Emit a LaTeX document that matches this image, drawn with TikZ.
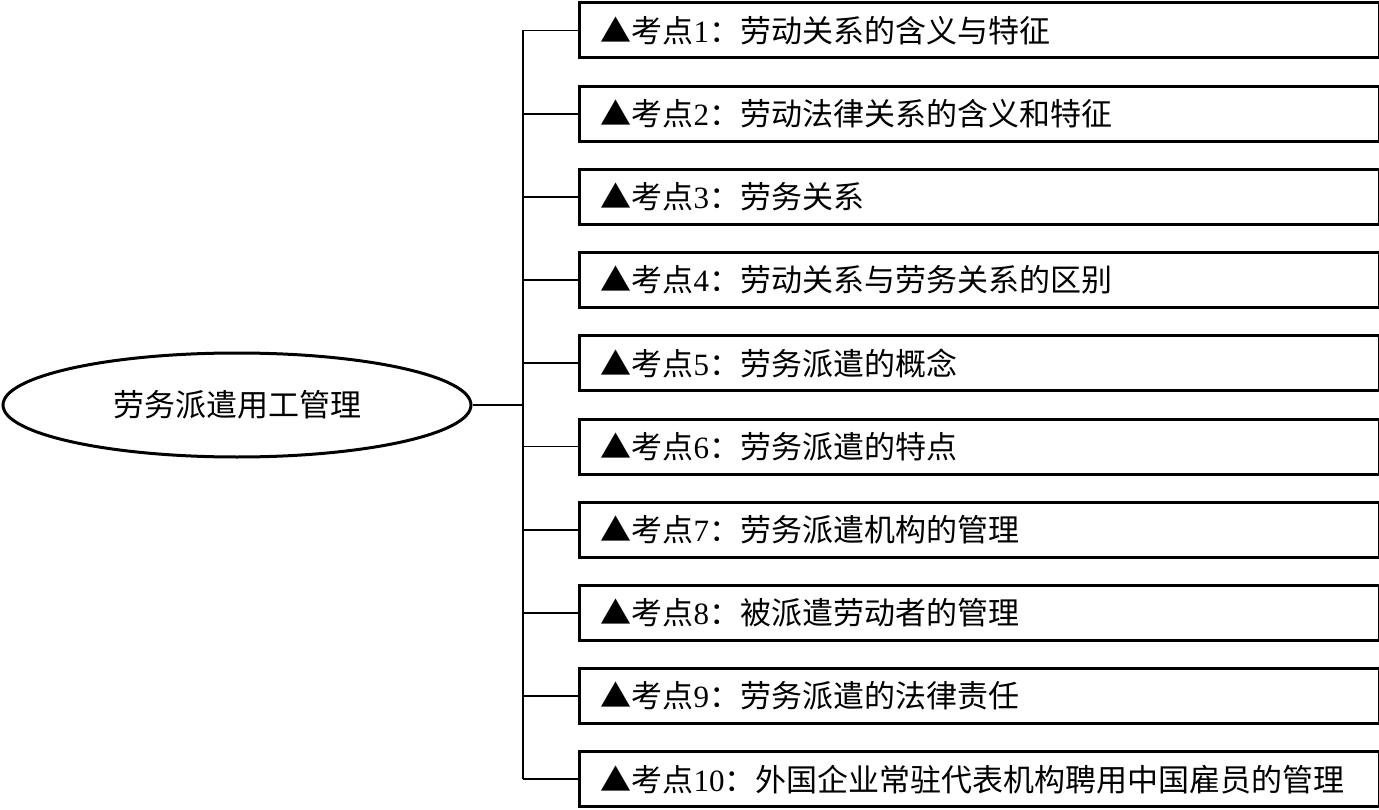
\documentclass[tikz,border=0pt]{standalone}
\usepackage{fontspec}
\usetikzlibrary{shapes.geometric}
\newfontfamily\cjk{Noto Sans CJK SC}
\newfontfamily\tnr{Liberation Serif}
\newcommand{\kd}[2]{{\cjk ▲考点}{\tnr #1}{\cjk ：#2}}
\begin{document}
\begin{tikzpicture}[x=1pt,y=-1pt,
  pointbox/.style={draw=black,line width=3pt,rectangle,anchor=west,
    text width=758pt,align=left,inner xsep=21pt,inner ysep=0pt,
    minimum height=55pt,font=\fontsize{31}{33}\selectfont},
  rootell/.style={draw=black,line width=3pt,ellipse,inner sep=0pt,
    minimum width=468pt,minimum height=104pt,font=\cjk\fontsize{31}{33}\selectfont},
  conn/.style={draw=black,line width=1.8pt}]
\useasboundingbox (0,0) rectangle (1379,810);
\node[rootell] (root) at (237,405) {劳务派遣用工管理};
\coordinate (t) at (523,405);
\node[pointbox] (b1) at (578,30.5) {\kd{1}{劳动关系的含义与特征}};
\node[pointbox] (b2) at (578,113.7) {\kd{2}{劳动法律关系的含义和特征}};
\node[pointbox] (b3) at (578,196.9) {\kd{3}{劳务关系}};
\node[pointbox] (b4) at (578,280.1) {\kd{4}{劳动关系与劳务关系的区别}};
\node[pointbox] (b5) at (578,363.3) {\kd{5}{劳务派遣的概念}};
\node[pointbox] (b6) at (578,446.5) {\kd{6}{劳务派遣的特点}};
\node[pointbox] (b7) at (578,529.7) {\kd{7}{劳务派遣机构的管理}};
\node[pointbox] (b8) at (578,612.9) {\kd{8}{被派遣劳动者的管理}};
\node[pointbox] (b9) at (578,696.1) {\kd{9}{劳务派遣的法律责任}};
\node[pointbox] (b10) at (578,779.3) {\kd{10}{外国企业常驻代表机构聘用中国雇员的管理}};
\draw[conn] (root.east) -- (t);
\draw[conn] (t |- b1.west) -- (t |- b10.west);
\foreach \i in {1,...,10}{
  \draw[conn] (t |- b\i.west) -- (b\i.west);
}
\end{tikzpicture}
\end{document}
